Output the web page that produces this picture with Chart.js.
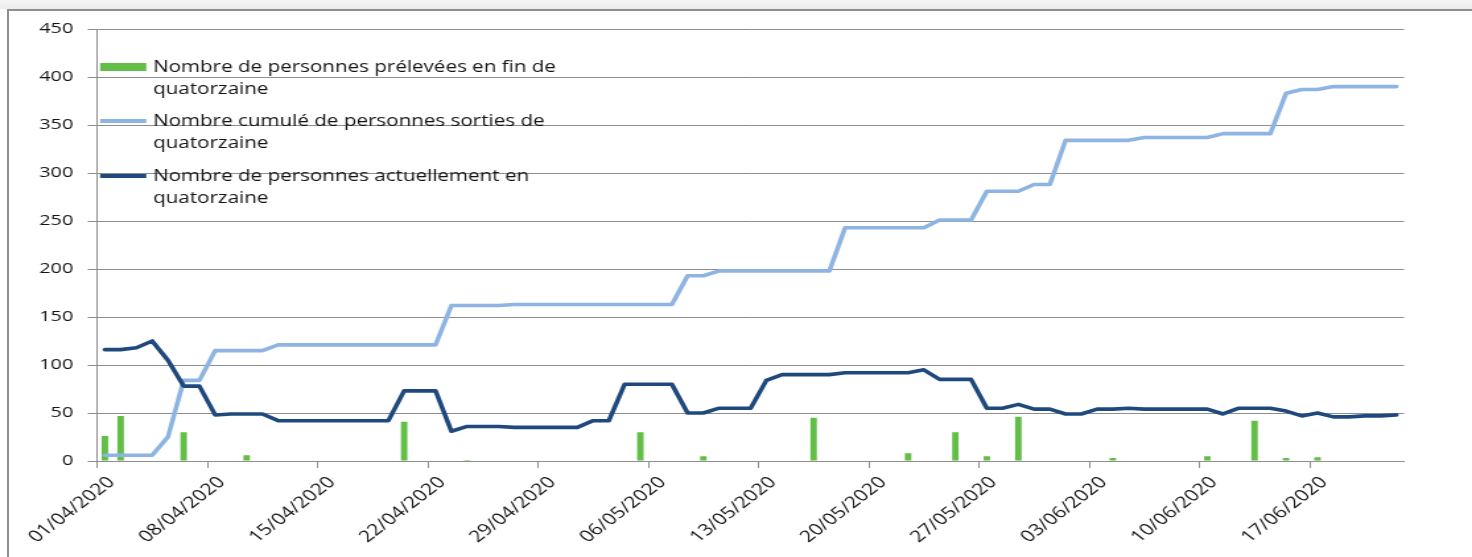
<!DOCTYPE html>
<html lang="fr">
<head>
<meta charset="utf-8">
<title>Quatorzaine</title>
<script src="https://cdn.jsdelivr.net/npm/chart.js@4.4.0/dist/chart.umd.min.js"></script>
<style>
  html, body { margin: 0; padding: 0; background: #fff; overflow: hidden; }
  #shade { position: absolute; left: 0; top: 0; width: 1472px; height: 9px; background: linear-gradient(#f6f6f6, #ebebeb); }
  #frame { position: absolute; left: 7px; top: 9px; width: 1480px; height: 570px; border-top: 2px solid #8e8e8e; border-left: 2px solid #8e8e8e; }
  #wrap { position: absolute; left: 0; top: 0; width: 1115px; height: 557px; transform: scaleX(1.3202); transform-origin: 0 0; }
</style>
</head>
<body>
<div id="shade"></div>
<div id="frame"></div>
<div id="wrap"><canvas id="quatorzaineChart"></canvas></div>
<script>
const dates = [
  '01/04/2020', '02/04/2020', '03/04/2020', '04/04/2020', '05/04/2020', '06/04/2020', '07/04/2020',
  '08/04/2020', '09/04/2020', '10/04/2020', '11/04/2020', '12/04/2020', '13/04/2020', '14/04/2020',
  '15/04/2020', '16/04/2020', '17/04/2020', '18/04/2020', '19/04/2020', '20/04/2020', '21/04/2020',
  '22/04/2020', '23/04/2020', '24/04/2020', '25/04/2020', '26/04/2020', '27/04/2020', '28/04/2020',
  '29/04/2020', '30/04/2020', '01/05/2020', '02/05/2020', '03/05/2020', '04/05/2020', '05/05/2020',
  '06/05/2020', '07/05/2020', '08/05/2020', '09/05/2020', '10/05/2020', '11/05/2020', '12/05/2020',
  '13/05/2020', '14/05/2020', '15/05/2020', '16/05/2020', '17/05/2020', '18/05/2020', '19/05/2020',
  '20/05/2020', '21/05/2020', '22/05/2020', '23/05/2020', '24/05/2020', '25/05/2020', '26/05/2020',
  '27/05/2020', '28/05/2020', '29/05/2020', '30/05/2020', '31/05/2020', '01/06/2020', '02/06/2020',
  '03/06/2020', '04/06/2020', '05/06/2020', '06/06/2020', '07/06/2020', '08/06/2020', '09/06/2020',
  '10/06/2020', '11/06/2020', '12/06/2020', '13/06/2020', '14/06/2020', '15/06/2020', '16/06/2020',
  '17/06/2020', '18/06/2020', '19/06/2020', '20/06/2020', '21/06/2020', '22/06/2020'
];

// Nombre de personnes prélevées en fin de quatorzaine
const preleves = [
  26, 47, 0, 0, 0, 30, 0, 0, 0, 6, 0, 0, 0, 0,
  0, 0, 0, 0, 0, 41, 0, 0, 0, 1, 0, 0, 0, 0,
  0, 0, 0, 0, 0, 0, 30, 0, 0, 0, 5, 0, 0, 0,
  0, 0, 0, 45, 0, 0, 0, 0, 0, 8, 0, 0, 30, 0,
  5, 0, 46, 0, 0, 0, 0, 0, 3, 0, 0, 0, 0, 0,
  5, 0, 0, 42, 0, 3, 0, 4, 0, 0, 0, 0, 0
];

// Nombre cumulé de personnes sorties de quatorzaine
const sortiesCumulees = [
  6, 6, 6, 6, 25, 84, 84, 115, 115, 115, 115, 121, 121, 121,
  121, 121, 121, 121, 121, 121, 121, 121, 162, 162, 162, 162, 163, 163,
  163, 163, 163, 163, 163, 163, 163, 163, 163, 193, 193, 198, 198, 198,
  198, 198, 198, 198, 198, 243, 243, 243, 243, 243, 243, 251, 251, 251,
  281, 281, 281, 288, 288, 334, 334, 334, 334, 334, 337, 337, 337, 337,
  337, 341, 341, 341, 341, 383, 387, 387, 390, 390, 390, 390, 390
];

// Nombre de personnes actuellement en quatorzaine
const actuellement = [
  116, 116, 118, 125, 105, 78, 78, 48, 49, 49, 49, 42, 42, 42,
  42, 42, 42, 42, 42, 73, 73, 73, 31, 36, 36, 36, 35, 35,
  35, 35, 35, 42, 42, 80, 80, 80, 80, 50, 50, 55, 55, 55,
  84, 90, 90, 90, 90, 92, 92, 92, 92, 92, 95, 85, 85, 85,
  55, 55, 59, 54, 54, 49, 49, 54, 54, 55, 54, 54, 54, 54,
  54, 49, 55, 55, 55, 52, 47, 50, 46, 46, 47, 47, 48
];

const legendLines = [
  ['Nombre de personnes prélevées en fin de', 'quatorzaine'],
  ['Nombre cumulé de personnes sorties de', 'quatorzaine'],
  ['Nombre de personnes actuellement en', 'quatorzaine']
];

const green = '#62be46';
const lightBlue = '#8db4e2';
const darkBlue = '#1f497d';
const gridGray = '#8e8e8e';
const textColor = '#141414';
const fontFamily = '"Open Sans", "Noto Sans", sans-serif';

// legend drawn by hand so the labels can wrap on two lines
const wrappedLegend = {
  id: 'wrappedLegend',
  afterDraw(chart) {
    const ctx = chart.ctx;
    const swatchX = 75.8, swatchW = 35, textX = 116;
    const rowsY = [67, 121, 176];
    ctx.save();
    ctx.font = '15.6px ' + fontFamily;
    ctx.textBaseline = 'middle';
    rowsY.forEach((y, i) => {
      if (i === 0) {
        ctx.fillStyle = green;
        ctx.fillRect(swatchX, y - 4, swatchW, 8);
      } else {
        ctx.strokeStyle = i === 1 ? lightBlue : darkBlue;
        ctx.lineWidth = 4;
        ctx.beginPath();
        ctx.moveTo(swatchX, y);
        ctx.lineTo(swatchX + swatchW, y);
        ctx.stroke();
      }
      ctx.fillStyle = textColor;
      ctx.fillText(legendLines[i][0], textX, y + 1);
      ctx.fillText(legendLines[i][1], textX, y + 23);
    });
    ctx.restore();
  }
};

window.addEventListener('load', () => {
  const ctxQuatorzaine = document.getElementById('quatorzaineChart').getContext('2d');
  new Chart(ctxQuatorzaine, {
    data: {
      labels: dates,
      datasets: [
        {
          type: 'line',
          label: legendLines[2].join(' '),
          data: actuellement,
          borderColor: darkBlue,
          borderWidth: 3.6,
          pointRadius: 0,
          tension: 0,
          borderJoinStyle: 'round',
          borderCapStyle: 'round',
          order: 0
        },
        {
          type: 'line',
          label: legendLines[1].join(' '),
          data: sortiesCumulees,
          borderColor: lightBlue,
          borderWidth: 3.6,
          pointRadius: 0,
          tension: 0,
          borderJoinStyle: 'round',
          borderCapStyle: 'round',
          order: 1
        },
        {
          type: 'bar',
          label: legendLines[0].join(' '),
          data: preleves,
          backgroundColor: green,
          barPercentage: 0.41,
          categoryPercentage: 1,
          order: 2
        }
      ]
    },
    options: {
      responsive: true,
      maintainAspectRatio: false,
      animation: false,
      layout: {
        padding: { left: 0, right: 51.4, top: 29, bottom: 0 }
      },
      plugins: {
        legend: { display: false },
        tooltip: { enabled: false }
      },
      scales: {
        x: {
          type: 'category',
          offset: true,
          grid: {
            offset: true,
            drawOnChartArea: false,
            tickLength: 7,
            color: (c) => (c.index % 7 === 0 ? gridGray : 'rgba(0,0,0,0)')
          },
          border: { color: gridGray, width: 1 },
          ticks: {
            autoSkip: false,
            minRotation: 45,
            maxRotation: 45,
            padding: 5,
            labelOffset: 5,
            color: textColor,
            font: { family: fontFamily, size: 16 },
            callback: (value, index) => (index % 7 === 0 ? dates[index] : '')
          },
          afterFit: (scale) => { scale.height = 96; }
        },
        y: {
          min: 0,
          max: 450,
          grid: { color: gridGray, tickLength: 7 },
          border: { color: gridGray, width: 1 },
          ticks: {
            stepSize: 50,
            padding: 11,
            color: textColor,
            font: { family: fontFamily, size: 15 }
          },
          afterFit: (scale) => { scale.width = 73.5; }
        }
      }
    },
    plugins: [wrappedLegend]
  });
});
</script>
</body>
</html>
